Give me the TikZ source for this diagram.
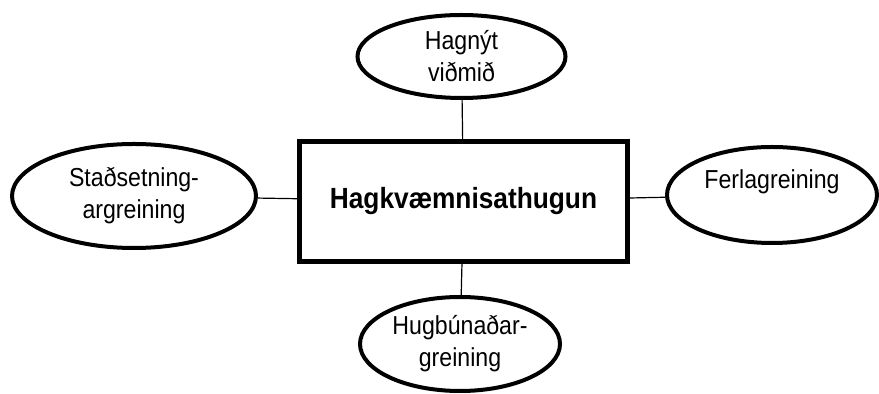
\documentclass[tikz,border=0pt]{standalone}
\usepackage{fontspec}
\setmainfont{Liberation Sans}[FakeStretch=0.89, BoldFeatures={FakeStretch=0.9}]
\usepackage{tikz}
\usetikzlibrary{positioning, shapes.geometric}
\tikzset{topic/.style = {draw, ellipse, line width=2pt, inner sep=0pt, align=center, font=\fontsize{13}{16}\selectfont}}
\tikzset{study/.style = {draw, rectangle, line width=2.5pt, inner sep=0pt, minimum width=164pt, minimum height=60pt, font=\fontsize{14.6}{16}\selectfont\bfseries}}
\tikzset{link/.style = {line width=0.6pt}}

\begin{document}
\begin{tikzpicture}[x=0.5pt, y=-0.5pt]
  \useasboundingbox (0,0) rectangle (879,394);

  \node [study] (hagk) at (463.5,201.5) {Hagkvæmnisathugun};
  \node [topic, minimum width=104pt, minimum height=41.5pt, above=19.5pt of hagk, xshift=-1pt] (vidmid) {Hagnýt\\viðmið};
  \node [topic, minimum width=122pt, minimum height=52pt, left=19.5pt of hagk, yshift=2.75pt] (stad) {Staðsetning-\\argreining};
  \node [topic, minimum width=105pt, minimum height=48pt, right=17.5pt of hagk, yshift=3.25pt] (ferl) {Ferlagreining\\~};
  \node [topic, minimum width=100pt, minimum height=47pt, below=15.5pt of hagk, xshift=-1.75pt] (hugb) {Hugbúnaðar-\\greining};

  \path[link] (vidmid) edge (hagk);
  \path[link] (stad) edge (hagk);
  \path[link] (hagk) edge (ferl);
  \path[link] (hagk) edge (hugb);
\end{tikzpicture}
\end{document}
